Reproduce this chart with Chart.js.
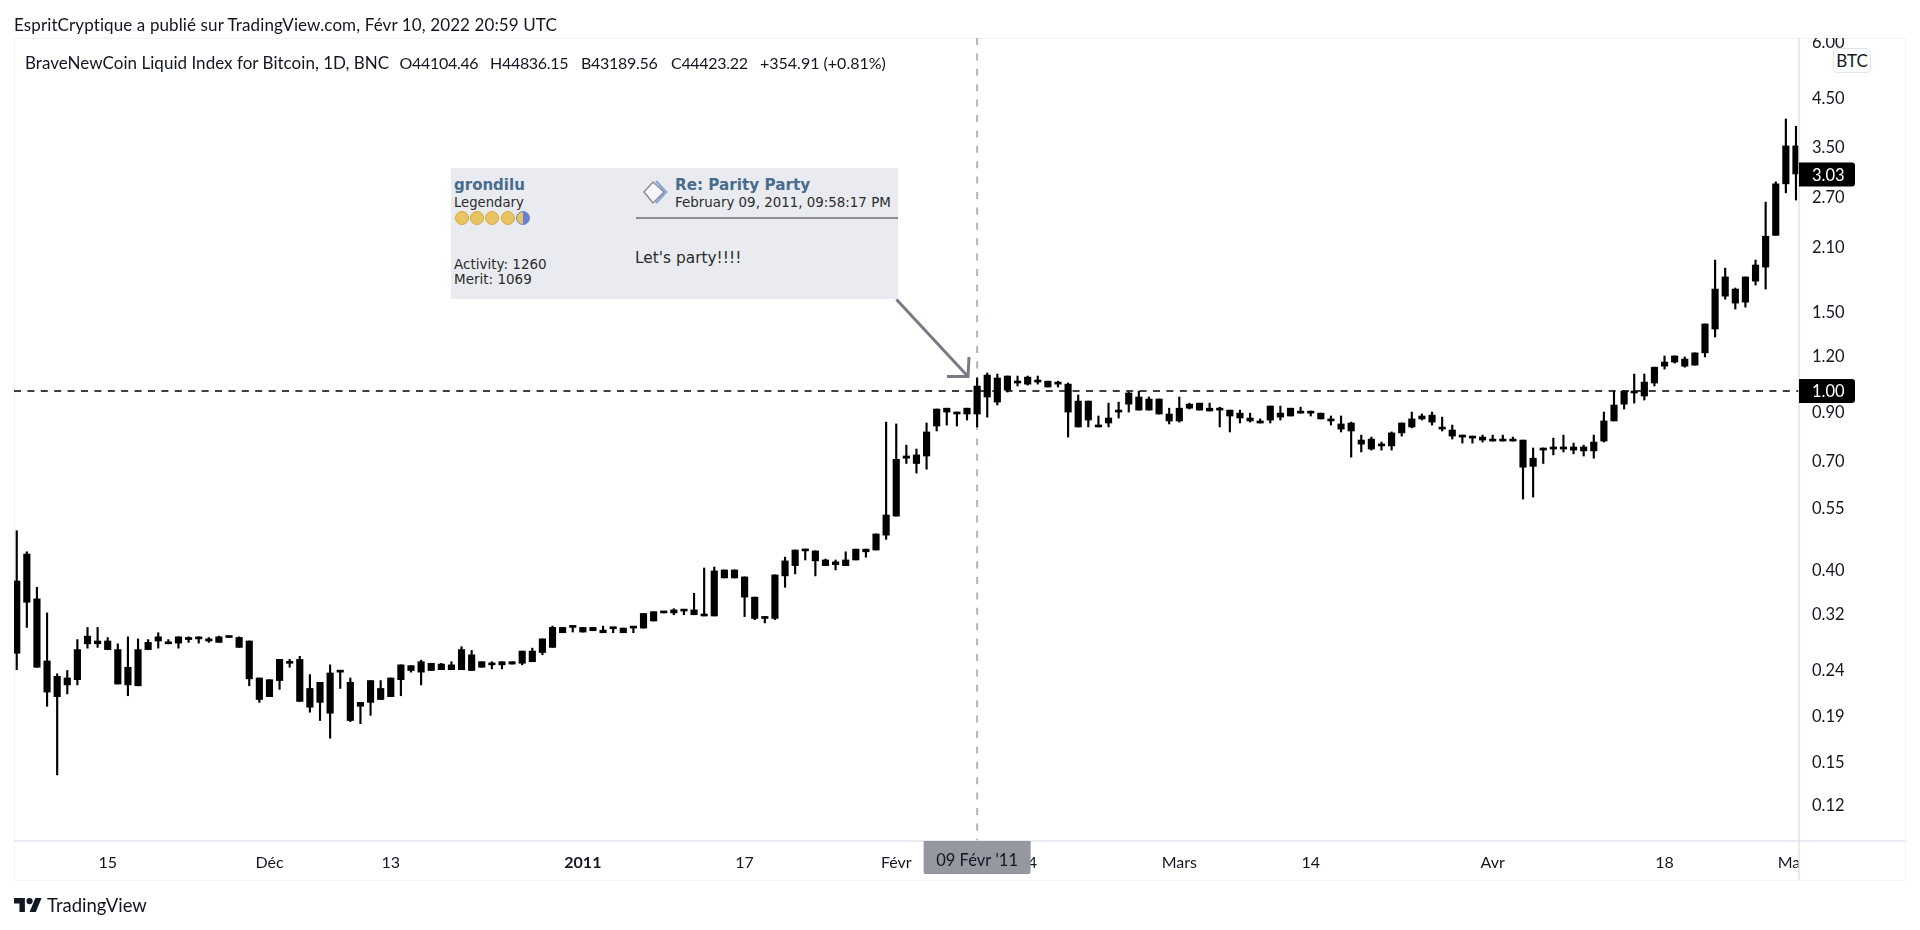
<!DOCTYPE html>
<html>
<head>
<meta charset="utf-8">
<title>BraveNewCoin Liquid Index for Bitcoin</title>
<script src="https://cdn.jsdelivr.net/npm/chart.js@4"></script>
<style>
    html, body { margin: 0; padding: 0; background: #fff; overflow: hidden; }
    #page { position: relative; width: 1920px; height: 930px; color: #131722; font-family: Lato, sans-serif; font-size: 16px; }
    #frame { position: absolute; left: 14px; top: 38px; width: 1890px; height: 841px; border: 1px solid #f0f3fa; }
    #priceChart { position: absolute; left: 0; top: 0; }
    .txt { position: absolute; white-space: nowrap; transform: translateY(-50%); }
    .ohlc { letter-spacing: -0.3px; top: 62px; }
    #forumBox { position: absolute; left: 451px; top: 168px; width: 447px; height: 131px; background: #e9ebf1; }
    .forum { font-family: "DejaVu Sans", sans-serif; color: #2b2b2b; }
    .forumBlue { color: #476c8e; font-weight: bold; }
    .coin { position: absolute; top: 211px; width: 14px; height: 14px; border-radius: 50%; background: #e9c463; border: 1px solid #d5a93f; box-sizing: border-box; }
    #btcTag { position: absolute; left: 1833px; top: 48px; width: 38px; height: 25px; box-sizing: border-box; border: 1.5px solid #e0e3eb; border-radius: 5px; text-align: center; line-height: 23px; background: #fff; font-size: 17px; }
</style>
</head>
<body>
<div id="page">
    <div id="frame"></div>
    <canvas id="priceChart" width="1920" height="930"></canvas>

    <div class="txt" style="left:14px;top:23.5px;font-size:17px;letter-spacing:.11px">EspritCryptique a publié sur TradingView.com, Févr 10, 2022 20:59 UTC</div>
    <div class="txt" style="left:25px;top:62px;font-size:17px;letter-spacing:.03px">BraveNewCoin Liquid Index for Bitcoin, 1D, BNC</div>
    <div class="txt ohlc" style="left:399.5px">O44104.46</div>
    <div class="txt ohlc" style="left:490px">H44836.15</div>
    <div class="txt ohlc" style="left:581px">B43189.56</div>
    <div class="txt ohlc" style="left:671px">C44423.22</div>
    <div class="txt" style="left:760px;top:62px">+354.91 (+0.81%)</div>
    <div id="btcTag">BTC</div>

    <div id="forumBox"></div>
    <div class="txt forum forumBlue" style="left:454px;top:185px;font-size:15px">grondilu</div>
    <div class="txt forum" style="left:454px;top:202px;font-size:13.2px">Legendary</div>
    <div class="coin" style="left:455px"></div>
    <div class="coin" style="left:470px"></div>
    <div class="coin" style="left:485px"></div>
    <div class="coin" style="left:501px"></div>
    <div class="coin" style="left:516px;background:linear-gradient(90deg,#e9c463 50%,#6a7fd1 50%);border-color:#6a7fd1"></div>
    <div class="txt forum" style="left:454px;top:264px;font-size:13.5px">Activity: 1260</div>
    <div class="txt forum" style="left:454px;top:279px;font-size:13.5px">Merit: 1069</div>
    <svg style="position:absolute;left:640px;top:178px" width="32" height="28" viewBox="0 0 32 28">
        <path d="M16 3 L26 14 L16 25" fill="none" stroke="#8fa6d6" stroke-width="2.5"/>
        <path d="M13 4 L24 14 L13 25 L4 14 Z" fill="#f5f6f8" stroke="#8a8d94" stroke-width="1.5"/>
    </svg>
    <div class="txt forum forumBlue" style="left:675px;top:185px;font-size:15.2px">Re: Parity Party</div>
    <div class="txt forum" style="left:675px;top:202px;font-size:13.4px">February 09, 2011, 09:58:17 PM</div>
    <div style="position:absolute;left:636px;top:217px;width:262px;height:2px;background:#8a8d94"></div>
    <div class="txt forum" style="left:635px;top:258px;font-size:15.4px">Let's party!!!!</div>

    <svg style="position:absolute;left:0;top:0;pointer-events:none" width="1920" height="930">
        <path d="M896.5 299.5 L968 376.5 M969 357 L968 376.5 L947 376.5" fill="none" stroke="#787b86" stroke-width="3"/>
    </svg>

    <svg style="position:absolute;left:14px;top:897px" width="28" height="16" viewBox="0 4 36 18">
        <path d="M14 22H7V11H0V4h14v18zM28 22h-8l7.5-18h8L28 22z" fill="#131722"/><circle cx="20" cy="8" r="4" fill="#131722"/>
    </svg>
    <div class="txt" style="left:47px;top:905px;font-size:18.5px">TradingView</div>
</div>

<script>
// candle values, all candles are drawn black in the original
var high = [
    .489,.439,.366,.321,.235,.239,.280,.298,.298,.283,
    .274,.284,.281,.280,.290,.280,.284,.284,.284,.283,
    .285,.284,.284,.278,.230,.228,.253,.253,.257,.234,
    .225,.246,.239,.230,.203,.227,.227,.230,.246,.245,
    .252,.248,.248,.250,.270,.265,.250,.250,.250,.250,
    .264,.268,.281,.300,.298,.300,.298,.298,.300,.297,
    .297,.298,.320,.323,.323,.328,.326,.355,.404,.406,
    .400,.400,.386,.348,.315,.390,.427,.443,.443,.441,
    .423,.421,.439,.445,.445,.481,.853,.845,.758,.743,
    .849,.912,.916,.898,.916,1.069,1.097,1.091,1.080,1.080,
    1.080,1.080,1.052,1.052,1.042,.980,.950,.880,.940,.945,
    .995,1.000,.970,.960,.916,.970,.940,.940,.940,.921,
    .907,.907,.893,.867,.926,.926,.916,.921,.903,.893,
    .880,.880,.853,.798,.790,.770,.811,.849,.898,.889,
    .898,.875,.840,.798,.794,.798,.798,.798,.790,.778,
    .747,.747,.786,.798,.766,.758,.798,.898,1.000,1.000,
    1.091,1.091,1.130,1.197,1.197,1.191,1.216,1.410,1.956,1.877,
    1.695,1.794,1.956,2.632,2.92,4.03,3.88
];
var bodyTop = [
    .378,.434,.345,.251,.232,.230,.266,.285,.278,.278,
    .266,.243,.266,.276,.284,.276,.284,.283,.283,.281,
    .284,.284,.283,.278,.230,.228,.253,.250,.253,.218,
    .225,.236,.239,.225,.203,.227,.218,.230,.246,.245,
    .250,.248,.247,.246,.266,.259,.250,.248,.250,.250,
    .264,.264,.281,.298,.298,.300,.298,.298,.294,.297,
    .297,.298,.320,.323,.323,.326,.326,.326,.318,.398,
    .400,.400,.386,.348,.315,.390,.419,.443,.443,.441,
    .421,.417,.421,.445,.445,.481,.530,.705,.717,.721,
    .811,.912,.916,.898,.916,1.026,1.085,1.069,1.080,1.052,
    1.074,1.058,1.052,1.047,1.036,.950,.950,.836,.871,.907,
    .990,.970,.960,.960,.889,.916,.935,.940,.916,.912,
    .907,.893,.871,.858,.926,.893,.916,.898,.898,.893,
    .867,.845,.849,.778,.782,.762,.807,.849,.867,.880,
    .884,.828,.819,.798,.790,.790,.782,.782,.778,.778,
    .709,.747,.751,.751,.751,.751,.770,.858,.931,1.000,
    .995,1.047,1.130,1.160,1.197,1.178,1.216,1.410,1.686,1.794,
    1.686,1.794,1.907,2.21,2.89,3.51,3.51
];
var bodyBottom = [
    .261,.339,.243,.214,.209,.222,.228,.274,.274,.266,
    .223,.222,.221,.266,.278,.274,.275,.280,.281,.278,
    .276,.283,.269,.229,.206,.209,.227,.248,.204,.198,
    .203,.192,.237,.185,.199,.203,.206,.209,.228,.239,
    .237,.239,.240,.240,.240,.239,.243,.246,.246,.247,
    .248,.250,.262,.269,.290,.298,.291,.293,.290,.296,
    .290,.297,.297,.308,.321,.321,.324,.318,.316,.316,
    .384,.384,.348,.312,.312,.312,.388,.409,.441,.419,
    .409,.411,.409,.421,.439,.443,.478,.527,.709,.690,
    .717,.836,.898,.889,.889,.889,.970,.945,1.005,1.042,
    1.036,1.047,1.021,1.036,.898,.832,.862,.832,.849,.898,
    .935,.907,.907,.889,.858,.858,.916,.907,.903,.907,
    .880,.871,.858,.849,.862,.875,.880,.893,.893,.867,
    .858,.823,.815,.762,.743,.755,.755,.807,.832,.867,
    .853,.823,.794,.790,.786,.778,.774,.774,.774,.677,
    .680,.739,.743,.743,.739,.736,.736,.774,.858,.935,
    .990,.975,1.042,1.136,1.160,1.136,1.142,1.216,1.374,1.626,
    1.569,1.577,1.756,1.887,2.22,2.89,3.04
];
var low = [
    .240,.298,.243,.199,.140,.212,.222,.268,.269,.266,
    .223,.210,.221,.266,.268,.274,.268,.276,.275,.276,
    .276,.283,.269,.221,.203,.209,.217,.243,.204,.193,
    .185,.169,.218,.184,.182,.190,.206,.209,.210,.237,
    .222,.239,.240,.240,.240,.239,.243,.241,.241,.247,
    .246,.250,.259,.269,.290,.291,.291,.293,.290,.290,
    .290,.290,.297,.308,.321,.318,.318,.318,.316,.316,
    .384,.384,.315,.310,.305,.310,.366,.392,.421,.388,
    .409,.400,.409,.421,.427,.443,.468,.527,.690,.657,
    .670,.815,.840,.836,.862,.832,.875,.931,.995,1.026,
    1.031,1.036,1.021,1.021,.790,.832,.832,.832,.832,.871,
    .898,.907,.907,.889,.845,.853,.912,.907,.903,.832,
    .811,.849,.853,.849,.849,.862,.880,.893,.880,.867,
    .840,.811,.713,.732,.739,.739,.739,.794,.828,.862,
    .840,.815,.782,.766,.766,.770,.774,.774,.774,.575,
    .581,.690,.721,.732,.725,.717,.709,.770,.858,.912,
    .940,.955,1.026,1.119,1.154,1.130,1.142,1.191,1.319,1.601,
    1.522,1.537,1.721,1.686,2.22,2.76,2.66
];

// axis ticks
var priceTicks = [6, 4.5, 3.5, 2.7, 2.1, 1.5, 1.2, 0.9, 0.7, 0.55, 0.4, 0.32, 0.24, 0.19, 0.15, 0.12];
var timeTickIndex = [9, 25, 37, 56, 72, 87, 100, 115, 128, 146, 163, 175.5];
var timeTickLabels = ['15', 'Déc', '13', '2011', '17', 'Févr', '14', 'Mars', '14', 'Avr', '18', 'Mai'];

// marked levels
var parityLevel = 1.00;
var lastPrice = 3.03;
var crosshairIndex = 95;
var crosshairLabel = "09 Févr '11";

function candlePart(top, bottom) {
    return top.map(function(v, i) { return { x: i, y: [bottom[i], v] }; });
}

var overlayPlugin = {
    id: 'overlay',
    beforeDatasetsDraw: function(chart) {
        var ctx = chart.ctx, area = chart.chartArea;
        var y = Math.round(chart.scales.y.getPixelForValue(parityLevel));
        var x = chart.scales.x.getPixelForValue(crosshairIndex);
        ctx.save();
        ctx.strokeStyle = '#000';
        ctx.lineWidth = 1.6;
        ctx.setLineDash([7, 6.4]);
        ctx.beginPath();
        ctx.moveTo(area.left, y);
        ctx.lineTo(area.right, y);
        ctx.stroke();
        ctx.strokeStyle = '#b2b5be';
        ctx.lineWidth = 2;
        ctx.setLineDash([7, 8.4]);
        ctx.beginPath();
        ctx.moveTo(x, area.top);
        ctx.lineTo(x, area.bottom);
        ctx.stroke();
        ctx.restore();
    },
    afterDraw: function(chart) {
        var ctx = chart.ctx, area = chart.chartArea, yScale = chart.scales.y, xScale = chart.scales.x;
        // cut the labels that run out of the panes
        ctx.clearRect(area.right, 0, 125, area.top);
        ctx.clearRect(area.right, area.bottom, 106, 38);

        ctx.save();
        ctx.strokeStyle = '#e0e3eb';
        ctx.lineWidth = 1.5;
        ctx.beginPath();
        ctx.moveTo(area.left, area.bottom);
        ctx.lineTo(1905, area.bottom);
        ctx.moveTo(area.right, area.top);
        ctx.lineTo(area.right, 880);
        ctx.stroke();

        // price labels
        ctx.font = '16.5px Lato';
        ctx.textBaseline = 'middle';
        [lastPrice, parityLevel].forEach(function(v) {
            var y = yScale.getPixelForValue(v);
            ctx.fillStyle = '#000';
            ctx.beginPath();
            ctx.roundRect(area.right, y - 12, 56, 24, [0, 3, 3, 0]);
            ctx.fill();
            ctx.fillStyle = '#fff';
            ctx.fillText(v.toFixed(2), 1812, y + 1);
        });

        // crosshair date label
        var cx = xScale.getPixelForValue(crosshairIndex);
        ctx.fillStyle = '#9598a1';
        ctx.beginPath();
        ctx.roundRect(cx - 53.5, area.bottom, 107, 33, [0, 0, 2, 2]);
        ctx.fill();
        ctx.fillStyle = '#131722';
        ctx.textAlign = 'center';
        ctx.fillText(crosshairLabel, cx, area.bottom + 20);
        ctx.restore();
    }
};

document.addEventListener('DOMContentLoaded', function() {
    var priceCtx = document.getElementById('priceChart');
    new Chart(priceCtx, {
        type: 'bar',
        data: {
            datasets: [{
                label: 'wick',
                data: candlePart(high, low),
                backgroundColor: '#000',
                borderWidth: 0,
                barThickness: 1.5,
                grouped: false
            }, {
                label: 'body',
                data: candlePart(bodyTop, bodyBottom),
                backgroundColor: '#000',
                borderWidth: 0,
                barThickness: 6.5,
                minBarLength: 2,
                grouped: false
            }]
        },
        options: {
            responsive: false,
            animation: false,
            layout: { padding: { left: 14, top: 38, right: 15, bottom: 50 } },
            plugins: {
                legend: { display: false },
                tooltip: { enabled: false }
            },
            scales: {
                x: {
                    type: 'linear',
                    min: -0.27,
                    max: 176.3,
                    offset: false,
                    grid: { display: false, drawTicks: false },
                    border: { display: false },
                    afterBuildTicks: function(axis) {
                        axis.ticks = timeTickIndex.map(function(v) { return { value: v }; });
                    },
                    afterFit: function(axis) { axis.height = 39; },
                    ticks: {
                        autoSkip: false,
                        maxRotation: 0,
                        padding: 12,
                        color: '#131722',
                        font: function(c) {
                            return { family: 'Lato', size: 16, weight: timeTickLabels[c.index] === '2011' ? 'bold' : 'normal' };
                        },
                        callback: function(value, index) { return timeTickLabels[index]; }
                    }
                },
                y: {
                    type: 'logarithmic',
                    position: 'right',
                    min: 0.0998,
                    max: 6.1,
                    grid: { display: false, drawTicks: false },
                    border: { display: false },
                    afterBuildTicks: function(axis) {
                        axis.ticks = priceTicks.map(function(v) { return { value: v }; });
                    },
                    afterFit: function(axis) { axis.width = 106; },
                    ticks: {
                        autoSkip: false,
                        padding: 13,
                        labelOffset: 1,
                        crossAlign: 'near',
                        color: '#131722',
                        font: { family: 'Lato', size: 16.5 },
                        callback: function(value) { return Number(value).toFixed(2); }
                    }
                }
            }
        },
        plugins: [overlayPlugin]
    });
});
</script>
</body>
</html>
